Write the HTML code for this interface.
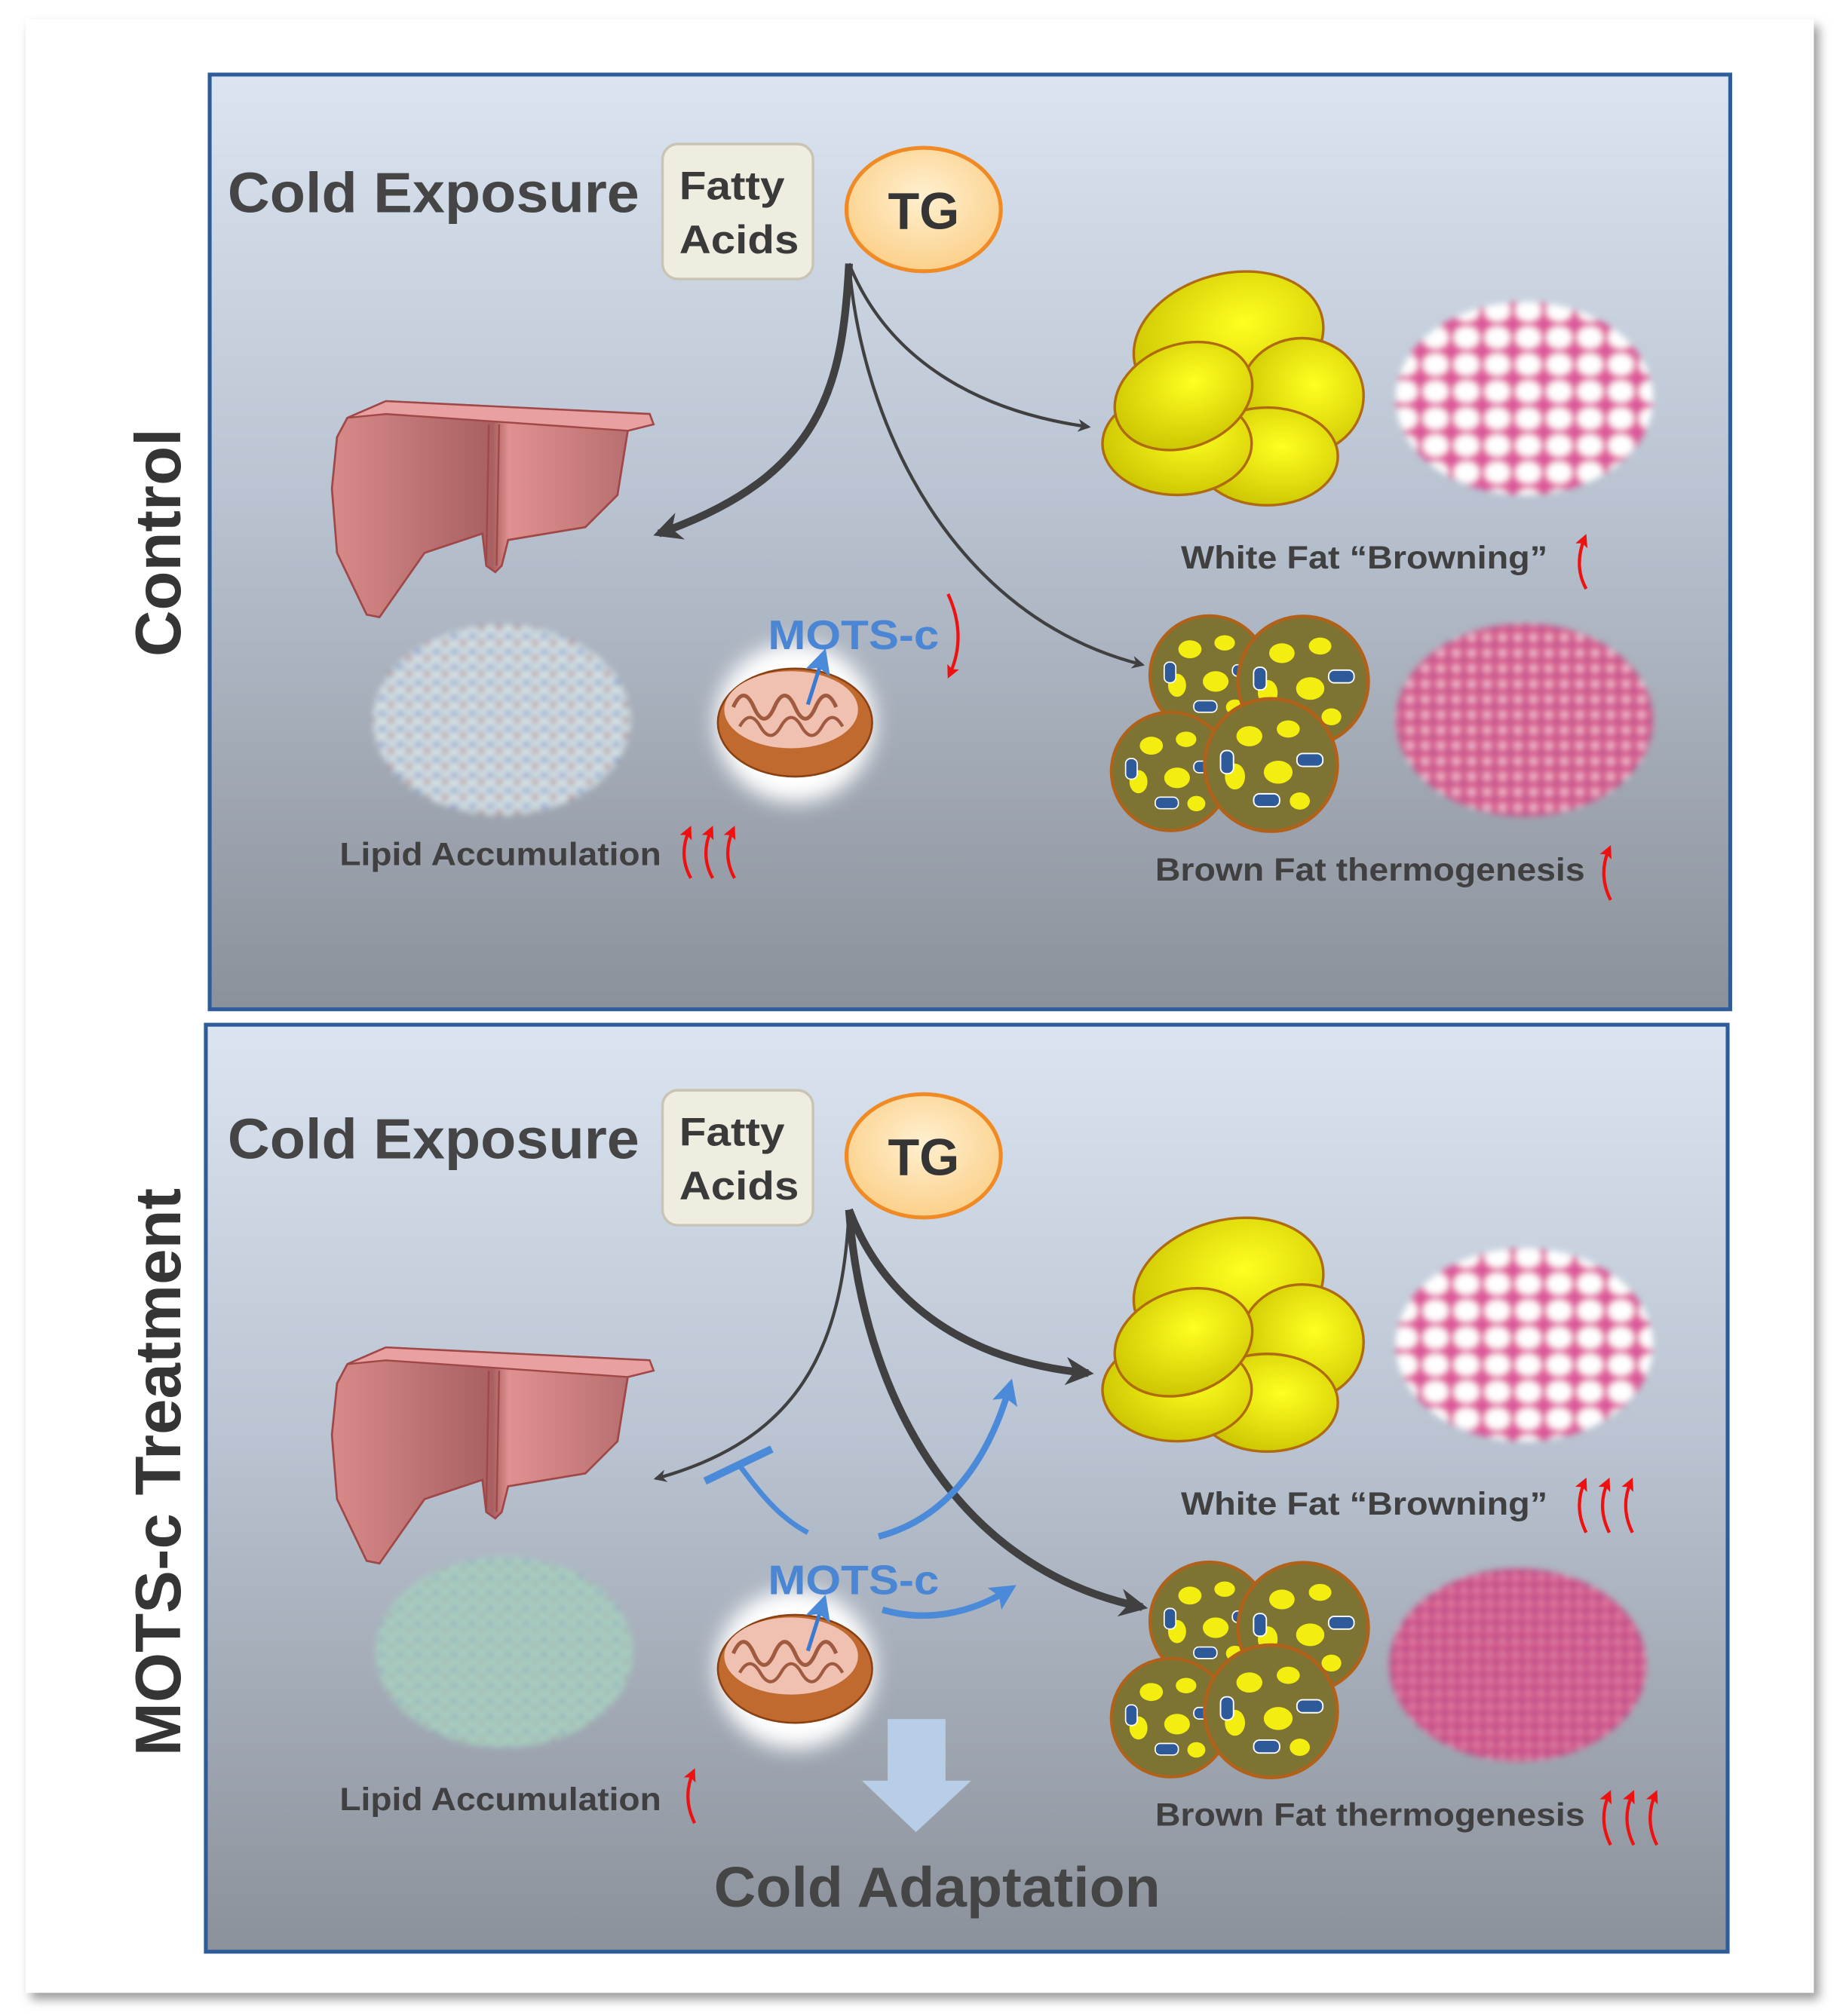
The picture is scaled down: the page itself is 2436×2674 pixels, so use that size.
<!DOCTYPE html>
<html><head><meta charset="utf-8"><style>
html,body{margin:0;padding:0;background:#fff;}
svg{display:block;}
text{font-family:"Liberation Sans",sans-serif;font-weight:bold;}
</style></head><body>
<svg width="2436" height="2674" viewBox="0 0 1428 1568" preserveAspectRatio="none" xmlns="http://www.w3.org/2000/svg">
<defs>
 <linearGradient id="pg" x1="0" y1="0" x2="0" y2="1">
  <stop offset="0" stop-color="#dbe5f1"/><stop offset="0.45" stop-color="#b9c3d1"/><stop offset="1" stop-color="#8b919a"/>
 </linearGradient>
 <radialGradient id="tgg" cx="0.5" cy="0.4" r="0.6"><stop offset="0" stop-color="#fff0d0"/><stop offset="1" stop-color="#fbd08a"/></radialGradient>
 <linearGradient id="lvg" x1="0" y1="0" x2="1" y2="0"><stop offset="0" stop-color="#d88a8a"/><stop offset="0.5" stop-color="#a86060"/><stop offset="0.55" stop-color="#e09090"/><stop offset="1" stop-color="#b06868"/></linearGradient>
 <radialGradient id="yg" cx="0.6" cy="0.4" r="0.7"><stop offset="0" stop-color="#ffff20"/><stop offset="1" stop-color="#c8c000"/></radialGradient>
 <filter id="bl" x="-10%" y="-10%" width="120%" height="120%"><feGaussianBlur stdDeviation="2.5"/></filter>
 <filter id="glow" x="-30%" y="-30%" width="160%" height="160%"><feGaussianBlur stdDeviation="8"/></filter>
 <filter id="sh" x="-5%" y="-5%" width="110%" height="110%"><feGaussianBlur stdDeviation="4"/></filter>
 <pattern id="wfp" width="24" height="21" patternUnits="userSpaceOnUse">
  <rect width="24" height="21" fill="#e05a9a"/><ellipse cx="12" cy="10.5" rx="10" ry="8.5" fill="#fff"/><circle cx="0" cy="0" r="2" fill="#7a2c8a"/>
 </pattern>
 <pattern id="bfp" width="12" height="12" patternUnits="userSpaceOnUse">
  <rect width="12" height="12" fill="#d86090"/><circle cx="4" cy="4" r="2.4" fill="#fbe0ec"/><circle cx="10" cy="9" r="1.6" fill="#7a3a8a"/>
 </pattern>
 <pattern id="bfp2" width="10" height="10" patternUnits="userSpaceOnUse">
  <rect width="10" height="10" fill="#d45a8c"/><circle cx="3" cy="3" r="1.6" fill="#6a3088"/><circle cx="8" cy="7" r="1.3" fill="#f6c8dc"/>
 </pattern>
 <pattern id="lhp" width="14" height="12" patternUnits="userSpaceOnUse">
  <rect width="14" height="12" fill="#d6e2e4"/><circle cx="3" cy="3" r="2.4" fill="#5a7ac0"/><circle cx="10" cy="8" r="2.2" fill="#9a4a5a"/><circle cx="9" cy="2" r="1.3" fill="#8aa6d0"/>
 </pattern>
 <pattern id="lhp2" width="14" height="12" patternUnits="userSpaceOnUse">
  <rect width="14" height="12" fill="#a8ccbf"/><circle cx="3" cy="3" r="1.8" fill="#7a90b8"/><circle cx="10" cy="8" r="1.5" fill="#9a7a90"/>
 </pattern>
 <marker id="ah" viewBox="0 0 10 10" refX="8" refY="5" markerUnits="userSpaceOnUse" markerWidth="12" markerHeight="10" orient="auto"><path d="M0,0 L10,5 L0,10 L3,5z" fill="#404040"/></marker>
 <marker id="ahs" viewBox="0 0 10 10" refX="8" refY="5" markerUnits="userSpaceOnUse" markerWidth="26" markerHeight="22" orient="auto"><path d="M0,0 L10,5 L0,10 L3,5z" fill="#404040"/></marker>
 <marker id="ahb" viewBox="0 0 10 10" refX="7" refY="5" markerUnits="userSpaceOnUse" markerWidth="20" markerHeight="20" orient="auto"><path d="M0,0 L10,5 L0,10 L2,5z" fill="#4a8ad8"/></marker>
 <marker id="ahr" viewBox="0 0 10 10" refX="7" refY="5" markerWidth="4" markerHeight="4" orient="auto"><path d="M0,0 L10,5 L0,10 L2,5z" fill="#ee1111"/></marker>
 <g id="liver">
  <path d="M270,325 L300,312 L505,322 L508,330 L488,335 L480,385 L455,410 L395,420 L390,440 L385,445 L378,440 L375,415 L330,430 L295,480 L285,478 L262,430 L258,380 L262,340 Z" fill="url(#lvg)" stroke="#a04848" stroke-width="1.6"/>
  <path d="M270,325 L300,312 L505,322 L508,330 L488,335 L300,322 Z" fill="#e8a0a0" stroke="#a04848" stroke-width="1.4"/>
  <path d="M380,330 L378,440 M388,330 L386,440" stroke="#a04848" stroke-width="1.4" fill="none"/>
 </g>
 <g id="wfat">
  <ellipse cx="955" cy="265" rx="75" ry="52" transform="rotate(-15 955 265)" fill="url(#yg)" stroke="#b06a10" stroke-width="2"/>
  <ellipse cx="1012" cy="308" rx="48" ry="45" fill="url(#yg)" stroke="#b06a10" stroke-width="2"/>
  <ellipse cx="985" cy="355" rx="55" ry="38" fill="url(#yg)" stroke="#b06a10" stroke-width="2"/>
  <ellipse cx="915" cy="345" rx="58" ry="40" fill="url(#yg)" stroke="#b06a10" stroke-width="2"/>
  <ellipse cx="920" cy="308" rx="55" ry="40" transform="rotate(-20 920 308)" fill="url(#yg)" stroke="#b06a10" stroke-width="2"/>
 </g>
 <g id="bcell">
  <circle r="46" fill="#7d7333" stroke="#b0621a" stroke-width="2.5"/>
  <ellipse cx="-15" cy="-20" rx="9" ry="7" fill="#f4ee10"/><ellipse cx="12" cy="-25" rx="8" ry="6" fill="#f4ee10"/>
  <ellipse cx="-25" cy="8" rx="7" ry="9" fill="#f4ee10"/><ellipse cx="5" cy="5" rx="10" ry="8" fill="#f4ee10"/>
  <ellipse cx="20" cy="25" rx="7" ry="6" fill="#f4ee10"/>
  <rect x="18" y="-8" width="18" height="9" rx="4" fill="#2e5a9a" stroke="#fff" stroke-width="1"/>
  <rect x="-12" y="20" width="18" height="9" rx="4" fill="#2e5a9a" stroke="#fff" stroke-width="1"/>
  <rect x="-35" y="-10" width="9" height="16" rx="4" fill="#2e5a9a" stroke="#fff" stroke-width="1"/>
 </g>
 <g id="bfat">
  <use href="#bcell" transform="translate(940 525)"/>
  <use href="#bcell" transform="translate(1013 530) scale(1.1)"/>
  <use href="#bcell" transform="translate(910 600)"/>
  <use href="#bcell" transform="translate(988 595) scale(1.12)"/>
 </g>
 <g id="mito">
  <circle cx="618" cy="562" r="62" fill="#fff" filter="url(#glow)"/>
  <ellipse cx="618" cy="562" rx="60" ry="42" fill="#c06a30" stroke="#8a4010" stroke-width="1.5"/>
  <ellipse cx="615" cy="552" rx="52" ry="30" fill="#f0c0b0"/>
  <path d="M570,550 q8,-18 16,0 q8,18 16,0 q8,-18 16,0 q8,18 16,0 q8,-18 16,0" stroke="#a05a40" stroke-width="3" fill="none"/>
  <path d="M575,565 q8,-14 16,0 q8,14 16,0 q8,-14 16,0 q8,14 16,0 q8,-14 16,0" stroke="#a05a40" stroke-width="2.5" fill="none"/>
 </g>
</defs>

<rect x="24" y="20" width="1390" height="1535" fill="#9a9a9a" filter="url(#sh)"/>
<rect x="20" y="15" width="1390" height="1535" fill="#fff"/>

<rect x="163" y="58" width="1182" height="727" fill="url(#pg)" stroke="#2e5b9a" stroke-width="3"/>
<rect x="160" y="797" width="1183" height="721" fill="url(#pg)" stroke="#2e5b9a" stroke-width="3"/>

<text transform="translate(140 422) rotate(-90)" font-size="50" fill="#353535" text-anchor="middle">Control</text>
<text transform="translate(140 1145) rotate(-90)" font-size="50" fill="#353535" text-anchor="middle">MOTS-c Treatment</text>

<g id="topcommon">
<text x="177" y="165" font-size="44" fill="#454545" textLength="320" lengthAdjust="spacingAndGlyphs">Cold Exposure</text>
<rect x="515" y="112" width="117" height="105" rx="12" fill="#efece0" stroke="#c8c4b4" stroke-width="2"/>
<text x="528" y="155" font-size="31" fill="#3a3a3a" textLength="82" lengthAdjust="spacingAndGlyphs">Fatty</text>
<text x="528" y="197" font-size="31" fill="#3a3a3a" textLength="93" lengthAdjust="spacingAndGlyphs">Acids</text>
<ellipse cx="718" cy="163" rx="60" ry="48" fill="url(#tgg)" stroke="#f08a24" stroke-width="3"/>
<text x="718" y="178" font-size="40" fill="#353535" text-anchor="middle">TG</text>
<use href="#liver"/>
<use href="#wfat"/>
<ellipse cx="1185" cy="310" rx="100" ry="75" fill="url(#wfp)" filter="url(#bl)"/>
<use href="#bfat"/>
<use href="#mito"/>
<line x1="628" y1="548" x2="640" y2="510" stroke="#3a7ad0" stroke-width="3" marker-end="url(#ahb)"/>
</g>
<ellipse cx="1185" cy="560" rx="100" ry="75" fill="url(#bfp)" filter="url(#bl)"/>
<ellipse cx="390" cy="560" rx="100" ry="74" fill="url(#lhp)" filter="url(#bl)"/>

<path d="M660,205 C655,300 640,370 512,415" stroke="#404040" stroke-width="6" fill="none" marker-end="url(#ahs)"/>
<path d="M660,205 C690,280 760,320 846,332" stroke="#404040" stroke-width="2.5" fill="none" marker-end="url(#ah)"/>
<path d="M660,205 C670,330 740,480 888,517" stroke="#404040" stroke-width="2.5" fill="none" marker-end="url(#ah)"/>

<text x="597" y="505" font-size="32" fill="#4a86d4" textLength="133" lengthAdjust="spacingAndGlyphs">MOTS-c</text>
<path d="M737,462 Q752,495 738,525" stroke="#ee1111" stroke-width="2.5" fill="none" marker-end="url(#ahr)"/>
<text x="264" y="673" font-size="25" fill="#404040" textLength="250" lengthAdjust="spacingAndGlyphs">Lipid Accumulation</text>
<path d="M537,683 Q527,665 536,645" stroke="#ee1111" stroke-width="2.5" fill="none" marker-end="url(#ahr)"/>
<path d="M554,683 Q544,665 553,645" stroke="#ee1111" stroke-width="2.5" fill="none" marker-end="url(#ahr)"/>
<path d="M571,683 Q561,665 570,645" stroke="#ee1111" stroke-width="2.5" fill="none" marker-end="url(#ahr)"/>
<text x="918" y="442" font-size="25" fill="#404040" textLength="285" lengthAdjust="spacingAndGlyphs">White Fat “Browning”</text>
<path d="M1233,458 Q1223,440 1232,418" stroke="#ee1111" stroke-width="2.5" fill="none" marker-end="url(#ahr)"/>
<text x="898" y="685" font-size="25" fill="#404040" textLength="334" lengthAdjust="spacingAndGlyphs">Brown Fat thermogenesis</text>
<path d="M1252,700 Q1242,680 1251,660" stroke="#ee1111" stroke-width="2.5" fill="none" marker-end="url(#ahr)"/>

<use href="#topcommon" transform="translate(0 736)"/>
<ellipse cx="1180" cy="1295" rx="100" ry="75" fill="url(#bfp2)" filter="url(#bl)"/>
<ellipse cx="392" cy="1285" rx="100" ry="74" fill="url(#lhp2)" filter="url(#bl)"/>

<path d="M660,941 C655,1050 620,1120 510,1150" stroke="#404040" stroke-width="2.5" fill="none" marker-end="url(#ah)"/>
<path d="M660,941 C690,1020 760,1060 846,1068" stroke="#404040" stroke-width="6" fill="none" marker-end="url(#ahs)"/>
<path d="M660,941 C670,1080 740,1220 888,1250" stroke="#404040" stroke-width="6" fill="none" marker-end="url(#ahs)"/>

<path d="M628,1192 C605,1180 590,1160 575,1140" stroke="#4a8ad8" stroke-width="4" fill="none"/>
<line x1="548" y1="1152" x2="600" y2="1127" stroke="#4a8ad8" stroke-width="6"/>
<path d="M683,1195 C740,1180 770,1130 785,1078" stroke="#4a8ad8" stroke-width="5" fill="none" marker-end="url(#ahb)"/>
<path d="M686,1252 C720,1262 755,1255 785,1236" stroke="#4a8ad8" stroke-width="5" fill="none" marker-end="url(#ahb)"/>

<text x="597" y="1240" font-size="32" fill="#4a86d4" textLength="133" lengthAdjust="spacingAndGlyphs">MOTS-c</text>
<path d="M690,1337 L735,1337 L735,1385 L755,1385 L712,1425 L670,1385 L690,1385 Z" fill="#b8cde6"/>
<text x="555" y="1483" font-size="44" fill="#454545" textLength="347" lengthAdjust="spacingAndGlyphs">Cold Adaptation</text>

<text x="264" y="1408" font-size="25" fill="#404040" textLength="250" lengthAdjust="spacingAndGlyphs">Lipid Accumulation</text>
<path d="M540,1418 Q530,1398 539,1378" stroke="#ee1111" stroke-width="2.5" fill="none" marker-end="url(#ahr)"/>
<text x="918" y="1178" font-size="25" fill="#404040" textLength="285" lengthAdjust="spacingAndGlyphs">White Fat “Browning”</text>
<path d="M1233,1192 Q1223,1172 1232,1152" stroke="#ee1111" stroke-width="2.5" fill="none" marker-end="url(#ahr)"/>
<path d="M1251,1192 Q1241,1172 1250,1152" stroke="#ee1111" stroke-width="2.5" fill="none" marker-end="url(#ahr)"/>
<path d="M1269,1192 Q1259,1172 1268,1152" stroke="#ee1111" stroke-width="2.5" fill="none" marker-end="url(#ahr)"/>
<text x="898" y="1420" font-size="25" fill="#404040" textLength="334" lengthAdjust="spacingAndGlyphs">Brown Fat thermogenesis</text>
<path d="M1252,1435 Q1242,1415 1251,1395" stroke="#ee1111" stroke-width="2.5" fill="none" marker-end="url(#ahr)"/>
<path d="M1270,1435 Q1260,1415 1269,1395" stroke="#ee1111" stroke-width="2.5" fill="none" marker-end="url(#ahr)"/>
<path d="M1288,1435 Q1278,1415 1287,1395" stroke="#ee1111" stroke-width="2.5" fill="none" marker-end="url(#ahr)"/>
</svg>
</body></html>
